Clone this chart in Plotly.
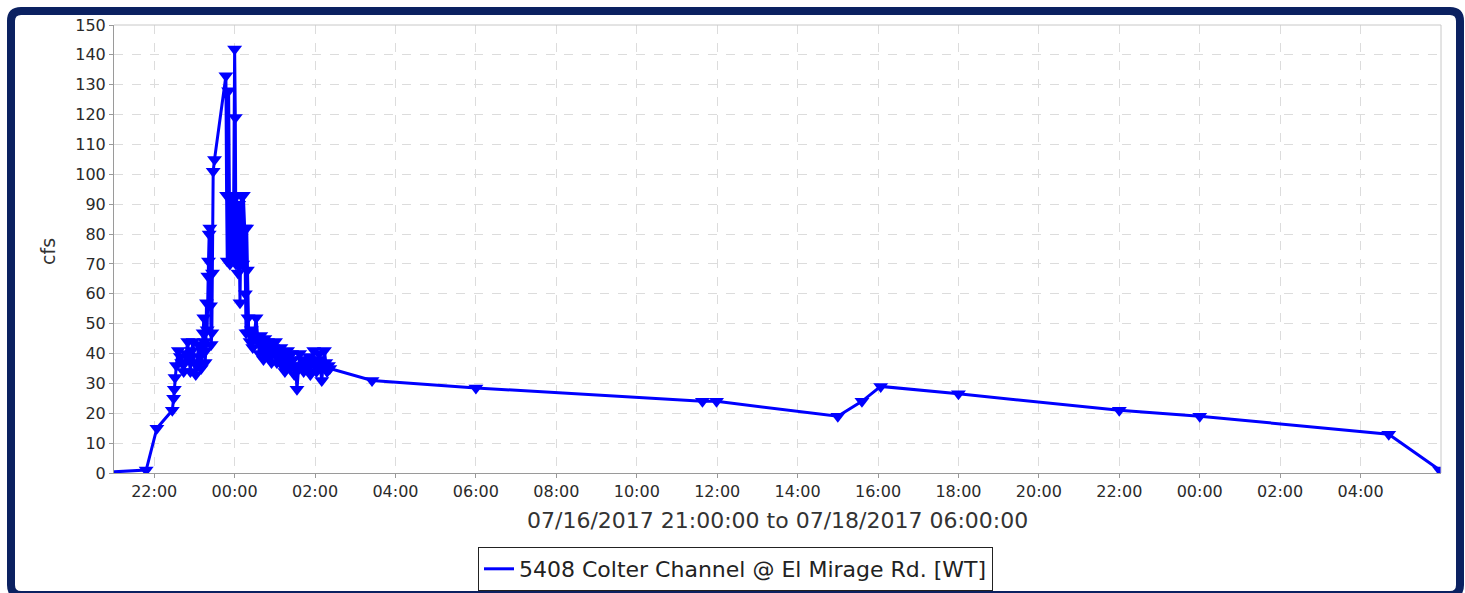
import plotly.graph_objects as go
import pandas as pd

# ---- data ----
start_time = "2017-07-16 21:00"
# minutes after 07/16/2017 21:00
minutes = [
    -30, 48, 64, 87, 89, 90, 91, 93, 96, 99, 101, 104, 106, 108, 110, 112, 114, 116, 118, 120,
    122, 124, 126, 128, 130, 132, 133, 134, 135, 136, 137, 138, 139, 140, 141, 142, 143, 144,
    145, 146, 147, 148, 150, 167, 168, 169, 171, 173, 176, 178, 180, 181, 182, 183, 185, 186,
    188, 189, 190, 192, 193, 195, 196, 197, 198, 199, 200, 201, 203, 205, 207, 209, 212, 214,
    215, 217, 219, 221, 223, 225, 227, 229, 231, 233, 235, 237, 239, 241, 243, 245, 247, 249,
    251, 253, 255, 257, 259, 261, 263, 265, 267, 269, 271, 273, 275, 277, 279, 281, 283, 285,
    288, 291, 293, 295, 298, 300, 302, 304, 306, 308, 310, 312, 314, 316, 318, 320, 322,
    385, 540, 878, 899, 1080, 1116, 1144, 1260, 1500, 1620, 1902, 1978,
]
cfs = [
    0, 1, 15, 21, 25, 28, 32, 36, 41, 39, 37, 34, 37, 40, 44, 38, 34, 41, 44, 37,
    33, 36, 43, 39, 35, 42, 47, 52, 44, 37, 41, 57, 48, 66, 71, 80, 82, 56,
    43, 47, 67, 101, 105, 133, 93, 71, 128, 70, 93, 72, 142, 119, 70, 93, 67, 90,
    57, 76, 93, 70, 93, 82, 60, 47, 82, 68, 52, 47, 44, 48, 42, 45, 52, 45,
    44, 40, 46, 42, 38, 45, 41, 44, 39, 43, 37, 42, 40, 44, 37, 41, 38, 42,
    36, 40, 34, 39, 41, 37, 35, 40, 38, 33, 36, 28, 35, 40, 36, 38, 34, 37,
    35, 39, 33, 37, 41, 36, 34, 38, 40, 35, 31, 36, 41, 37, 34, 36, 35,
    31, 28.5, 24, 24, 19, 24, 29, 26.5, 21, 19, 13, 1,
]
series_name = "5408 Colter Channel @ El Mirage Rd. [WT]"
y_label = "cfs"
x_title = "07/16/2017 21:00:00 to 07/18/2017 06:00:00"
x_range = ["2017-07-16 21:00", "2017-07-18 06:00"]
x_tickvals = [
    "2017-07-16 22:00", "2017-07-17 00:00", "2017-07-17 02:00", "2017-07-17 04:00",
    "2017-07-17 06:00", "2017-07-17 08:00", "2017-07-17 10:00", "2017-07-17 12:00",
    "2017-07-17 14:00", "2017-07-17 16:00", "2017-07-17 18:00", "2017-07-17 20:00",
    "2017-07-17 22:00", "2017-07-18 00:00", "2017-07-18 02:00", "2017-07-18 04:00",
]
y_ticks = list(range(0, 151, 10))

times = pd.Timestamp(start_time) + pd.to_timedelta(minutes, unit="min")

# ---- layout geometry (pixels) ----
W, H = 1465, 593
L, R, T, B = 114, 1441, 25, 473
pw, ph = R - L, B - T


def px(X):
    return (X - L) / pw


def py(Y):
    return (B - Y) / ph


BLUE = "#0000ff"
NAVY = "#0b2161"

fig = go.Figure()
fig.add_trace(go.Scatter(
    x=times, y=cfs, mode="lines+markers",
    line=dict(color=BLUE, width=3),
    marker=dict(symbol="triangle-down", size=13, color=BLUE),
    showlegend=False, cliponaxis=True,
))
fig.add_trace(go.Scatter(
    x=[None], y=[None], mode="lines", name=series_name,
    line=dict(color=BLUE, width=3), showlegend=True,
))

axis_common = dict(
    showline=True, linecolor="#9a9a9a", linewidth=1,
    ticks="outside", ticklen=4, tickcolor="#9a9a9a",
    showgrid=True, gridcolor="#dcdcdc", griddash="dash", gridwidth=1,
    tickfont=dict(family="DejaVu Sans", size=16, color="#2a2a2a"),
    zeroline=False, automargin=False,
)

fig.update_xaxes(
    type="date", range=x_range, tickvals=x_tickvals,
    tickformat="%H:%M", **axis_common,
)
fig.update_yaxes(range=[0, 150], tickvals=y_ticks, **axis_common)

# frame with rounded corners
x0, x1, y0, y1, r = 11, 1460, 11, 595, 10
path = (
    f"M {px(x0 + r)},{py(y0)} L {px(x1 - r)},{py(y0)} Q {px(x1)},{py(y0)} {px(x1)},{py(y0 + r)} "
    f"L {px(x1)},{py(y1 - r)} Q {px(x1)},{py(y1)} {px(x1 - r)},{py(y1)} "
    f"L {px(x0 + r)},{py(y1)} Q {px(x0)},{py(y1)} {px(x0)},{py(y1 - r)} "
    f"L {px(x0)},{py(y0 + r)} Q {px(x0)},{py(y0)} {px(x0 + r)},{py(y0)} Z"
)
shapes = [
    dict(type="path", path=path, xref="paper", yref="paper",
         line=dict(color=NAVY, width=8), fillcolor="rgba(0,0,0,0)", layer="above"),
    dict(type="line", xref="paper", yref="paper", x0=0, x1=1, y0=1, y1=1,
         line=dict(color="#c8c8c8", width=1)),
    dict(type="line", xref="paper", yref="paper", x0=1, x1=1, y0=0, y1=1,
         line=dict(color="#c8c8c8", width=1)),
]

annotations = [
    dict(text=y_label, xref="paper", yref="paper", x=px(48), y=py(252),
         xanchor="center", yanchor="middle", textangle=-90, showarrow=False,
         font=dict(family="DejaVu Sans", size=19, color="#333333")),
    dict(text=x_title, xref="paper", yref="paper", x=px(777), y=py(520),
         xanchor="center", yanchor="middle", showarrow=False,
         font=dict(family="DejaVu Sans", size=22, color="#333333")),
]

fig.update_layout(
    width=W, height=H, autosize=False,
    margin=dict(l=L, r=W - R, t=T, b=H - B, pad=0, autoexpand=False),
    paper_bgcolor="white", plot_bgcolor="white",
    shapes=shapes, annotations=annotations,
    legend=dict(
        orientation="h", x=px(735.5), xanchor="center",
        yref="container", y=(H - 547) / H, yanchor="top",
        bordercolor="#222222", borderwidth=1, bgcolor="white",
        font=dict(family="DejaVu Sans", size=22, color="#222222"),
        itemwidth=30,
    ),
    font=dict(family="DejaVu Sans"),
)

fig.write_html(
    "out.html",
    config={"displayModeBar": False},
    post_script=(
        "document.body.style.margin='0';"
        "document.body.style.overflow='hidden';"
        "document.documentElement.style.overflow='hidden';"
    ),
)
